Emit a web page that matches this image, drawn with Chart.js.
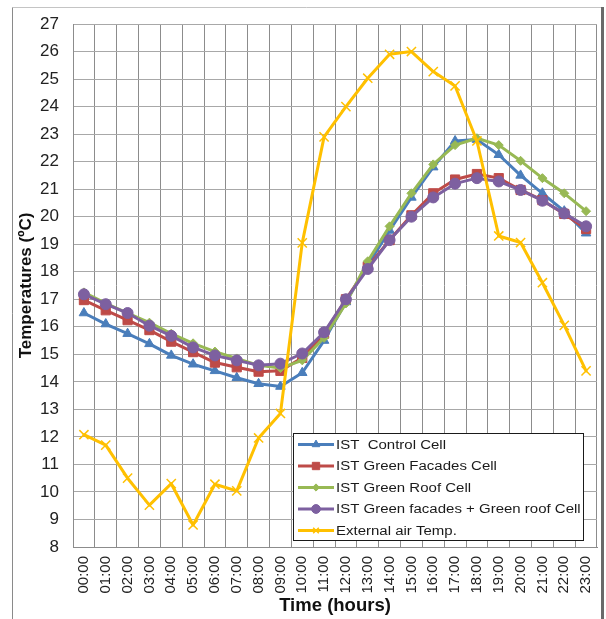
<!DOCTYPE html>
<html>
<head>
<meta charset="utf-8">
<script src="https://cdn.jsdelivr.net/npm/chart.js@4/dist/chart.umd.min.js"></script>
<style>
  html, body { margin: 0; padding: 0; background: #fff; }
  #wrap { position: relative; width: 606px; height: 619px; }
</style>
</head>
<body>
<div id="wrap"><canvas id="c" width="606" height="619"></canvas></div>
<script>
const hours = ['00:00','01:00','02:00','03:00','04:00','05:00','06:00','07:00','08:00','09:00','10:00','11:00',
               '12:00','13:00','14:00','15:00','16:00','17:00','18:00','19:00','20:00','21:00','22:00','23:00'];
const controlCell = [16.5, 16.1, 15.75, 15.38, 14.96, 14.64, 14.4, 14.15, 13.93, 13.83, 14.33, 15.5,
                     16.9, 18.25, 19.5, 20.7, 21.8, 22.75, 22.8, 22.25, 21.5, 20.85, 20.2, 19.4];
const greenFacadesCell = [16.97, 16.6, 16.24, 15.88, 15.46, 15.08, 14.7, 14.53, 14.37, 14.4, 14.87, 15.75,
                          17.0, 18.18, 19.15, 20.05, 20.85, 21.35, 21.55, 21.4, 20.97, 20.6, 20.1, 19.55];
const greenRoofCell = [17.25, 16.85, 16.5, 16.15, 15.75, 15.4, 15.1, 14.85, 14.6, 14.5, 14.78, 15.6,
                       16.85, 18.38, 19.65, 20.85, 21.9, 22.6, 22.85, 22.6, 22.03, 21.4, 20.85, 20.2];
const facadesRoofCell = [17.18, 16.82, 16.5, 16.04, 15.67, 15.25, 14.96, 14.78, 14.6, 14.66, 15.03, 15.8,
                         17.0, 18.1, 19.15, 20.0, 20.7, 21.2, 21.4, 21.28, 20.97, 20.58, 20.12, 19.65];
const externalAir = [12.08, 11.7, 10.5, 9.52, 10.3, 8.8, 10.28, 10.04, 11.96, 12.85, 19.05, 22.9,
                     24.0, 25.03, 25.9, 26.0, 25.27, 24.75, 22.75, 19.3, 19.06, 17.6, 16.05, 14.4];
const seriesNames = ['IST  Control Cell', 'IST Green Facades Cell', 'IST Green Roof Cell',
                     'IST Green facades + Green roof Cell', 'External air Temp.'];
const yMin = 8, yMax = 27, yStep = 1;

const FONT = "'Liberation Sans', Arial, Helvetica, sans-serif";

function mk(label, data, color, style, radius, order, bw) {
  return {
    label, data, order,
    borderColor: color, backgroundColor: color,
    borderWidth: 3,
    pointStyle: style, pointRadius: radius, pointHoverRadius: radius,
    pointBorderWidth: bw, pointBackgroundColor: color, pointBorderColor: color,
    tension: 0, fill: false
  };
}

const datasets = [
  mk(seriesNames[0], controlCell, '#4A7EBB', 'triangle', 5.5, 5, 1),
  mk(seriesNames[1], greenFacadesCell, '#BE4B48', 'rect', 6.5, 4, 1),
  mk(seriesNames[2], greenRoofCell, '#98B954', 'rectRot', 4.5, 3, 1),
  mk(seriesNames[3], facadesRoofCell, '#7D60A0', 'circle', 5.5, 2, 1),
  mk(seriesNames[4], externalAir, '#FFC000', 'crossRot', 6.5, 1, 1.5)
];

const framePlugin = {
  id: 'frame',
  beforeDraw(chart) {
    const ctx = chart.ctx;
    ctx.save();
    ctx.fillStyle = '#fff';
    ctx.fillRect(0, 0, chart.width, chart.height);
    ctx.strokeStyle = '#c4c4c4';
    ctx.lineWidth = 1;
    ctx.beginPath();
    ctx.moveTo(12.5, 7.5); ctx.lineTo(601, 7.5);
    ctx.stroke();
    ctx.strokeStyle = '#8a8a8a';
    ctx.beginPath();
    ctx.moveTo(12.5, 7.5); ctx.lineTo(12.5, 619);
    ctx.stroke();
    ctx.strokeStyle = '#6a6a6a';
    ctx.lineWidth = 3;
    ctx.beginPath();
    ctx.moveTo(602.5, 7); ctx.lineTo(602.5, 619);
    ctx.stroke();
    ctx.restore();
  }
};

function drawMarker(ctx, style, r, x, y, color, bw) {
  ctx.fillStyle = color; ctx.strokeStyle = color; ctx.lineWidth = bw;
  if (Chart.helpers && Chart.helpers.drawPoint) {
    Chart.helpers.drawPoint(ctx, {pointStyle: style, radius: r, rotation: 0, borderWidth: bw}, x, y);
    return;
  }
  ctx.beginPath(); ctx.arc(x, y, r, 0, Math.PI * 2); ctx.fill();
}

const legendPlugin = {
  id: 'boxLegend',
  afterDraw(chart) {
    const ctx = chart.ctx;
    const bx = 293.5, by = 433.5, bw = 290, bh = 107;
    ctx.save();
    ctx.fillStyle = '#fff';
    ctx.fillRect(bx, by, bw, bh);
    ctx.strokeStyle = '#1a1a1a';
    ctx.lineWidth = 1;
    ctx.strokeRect(bx, by, bw, bh);
    const rowH = 21.5;
    chart.data.datasets.forEach((ds, i) => {
      const cy = 444.5 + i * rowH;
      ctx.strokeStyle = ds.borderColor;
      ctx.lineWidth = 3;
      ctx.beginPath();
      ctx.moveTo(298, cy); ctx.lineTo(334, cy);
      ctx.stroke();
      const r = ds.pointStyle === 'crossRot' ? 4 : ds.pointRadius * 0.8;
      drawMarker(ctx, ds.pointStyle, r, 316, cy, ds.borderColor, ds.pointBorderWidth);
      ctx.save();
      ctx.translate(336, cy + 1);
      ctx.scale(1.2, 1);
      ctx.fillStyle = '#1a1a1a';
      ctx.font = '12.5px ' + FONT;
      ctx.textBaseline = 'middle';
      ctx.textAlign = 'left';
      ctx.fillText(ds.label, 0, 0);
      ctx.restore();
    });
    ctx.restore();
  }
};

new Chart(document.getElementById('c'), {
  type: 'line',
  data: { labels: hours, datasets },
  plugins: [framePlugin, legendPlugin],
  options: {
    responsive: false,
    animation: false,
    devicePixelRatio: 1,
    layout: { padding: { top: 24, right: 9, left: 0, bottom: 0 } },
    plugins: { legend: { display: false }, tooltip: { enabled: false } },
    elements: { line: { borderCapStyle: 'round', borderJoinStyle: 'round' } },
    scales: {
      x: {
        type: 'category',
        offset: true,
        grid: { offset: true, color: '#8c8c8c', lineWidth: 1, drawTicks: false },
        border: { color: '#8c8c8c', width: 1 },
        ticks: {
          minRotation: 90, maxRotation: 90, autoSkip: false, padding: 9,
          color: '#222', font: { family: FONT, size: 15 }
        },
        title: {
          display: true, text: 'Time (hours)', color: '#111',
          font: { family: FONT, size: 18.5, weight: 'bold' },
          padding: { top: 0, bottom: 2 }
        },
        afterFit(scale) { scale.height = 72; scale.paddingLeft = 0; scale.paddingRight = 0; }
      },
      y: {
        min: yMin, max: yMax,
        grid: { color: '#a8a8a8', lineWidth: 1, drawTicks: false },
        border: { color: '#8c8c8c', width: 1 },
        ticks: {
          stepSize: yStep, padding: 14, color: '#222',
          font: { family: FONT, size: 17 }
        },
        title: {
          display: true, text: 'Temperatures (ºC)', color: '#111',
          font: { family: FONT, size: 17, weight: 'bold' },
          padding: { top: 16, bottom: 0 }
        },
        afterFit(scale) { scale.width = 73; scale.paddingTop = 0; scale.paddingBottom = 0; }
      }
    }
  }
});
</script>
</body>
</html>
